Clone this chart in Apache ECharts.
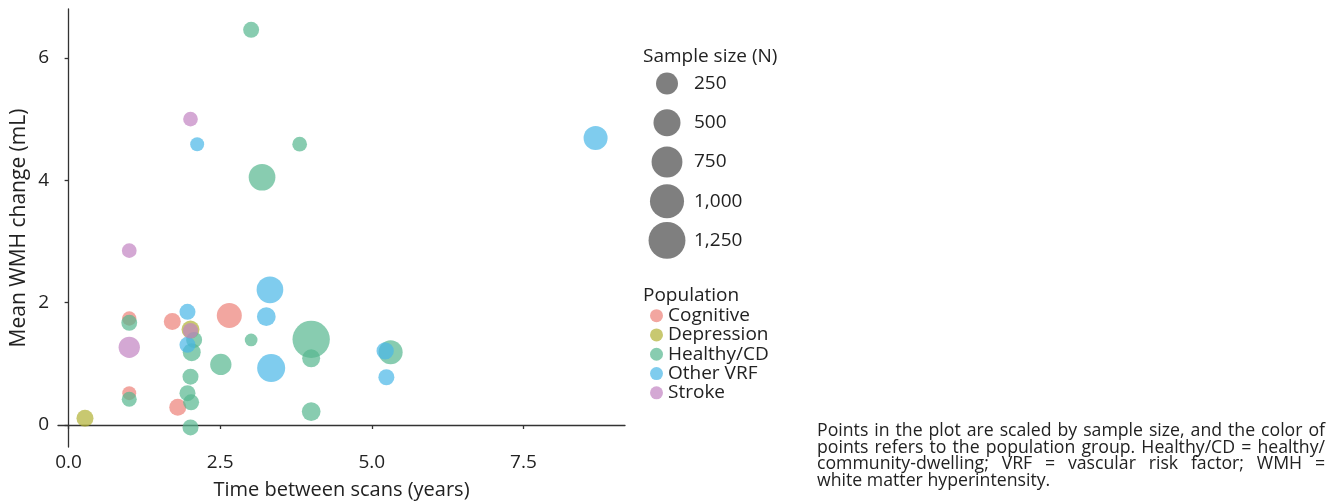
<!DOCTYPE html>
<html>
<head>
<meta charset="utf-8">
<script src="https://cdn.jsdelivr.net/npm/echarts@6/dist/echarts.min.js"></script>
<style>
  body { margin: 0; background: #fff; }
  #chart { width: 1337px; height: 504px; }
  .caption {
    position: absolute; left: 817px; top: 421px; width: 508px;
    font-family: "Open Sans", sans-serif; font-size: 17.7px; line-height: 16.7px; color: #222;
  }
  .caption div { white-space: nowrap; }
  .caption .j { text-align: justify; text-align-last: justify; }
</style>
</head>
<body>
<div id="chart"></div>
<div class="caption">
  <div class="j">Points in the plot are scaled by sample size, and the color of</div>
  <div class="j">points refers to the population group. Healthy/CD = healthy/</div>
  <div class="j">community-dwelling; VRF = vascular risk factor; WMH =</div>
  <div>white matter hyperintensity.</div>
</div>
<script>
// [years between scans, mean WMH change (mL), sample size N]
var cognitive = [[1.0, 1.74, 45], [1.0, 0.52, 40], [1.71, 1.69, 93], [1.80, 0.29, 93], [2.65, 1.79, 390]];
var depression = [[0.27, 0.11, 93], [2.01, 1.56, 117]];
var healthy = [
  [3.01, 6.46, 72], [3.81, 4.59, 50], [3.19, 4.05, 480], [1.0, 1.67, 70], [1.0, 0.42, 55],
  [2.07, 1.39, 72], [2.03, 1.19, 117], [2.01, 0.79, 72], [1.96, 0.52, 72], [2.02, 0.37, 72],
  [2.01, -0.04, 72], [2.51, 0.99, 224], [3.01, 1.39, 28], [4.0, 1.40, 1290], [4.0, 1.09, 117],
  [4.0, 0.22, 137], [5.31, 1.19, 340]
];
var otherVrf = [
  [2.12, 4.59, 40], [8.69, 4.69, 340], [1.96, 1.85, 72], [1.96, 1.31, 72], [3.32, 2.21, 480],
  [3.26, 1.77, 137], [3.34, 0.93, 560], [5.22, 1.21, 100], [5.24, 0.78, 72]
];
var stroke = [[2.01, 5.00, 50], [1.0, 2.85, 50], [1.0, 1.27, 224], [2.01, 1.54, 60]];

var groupNames = ["Cognitive", "Depression", "Healthy/CD", "Other VRF", "Stroke"];
var groupColors = ["#ec8077", "#b0b033", "#55b68e", "#48b6e7", "#c283c2"];
var sizeBreaks = [250, 500, 750, 1000, 1250];
var sizeLabels = ["250", "500", "750", "1,000", "1,250"];
var xTicks = [0, 2.5, 5, 7.5];
var yTicks = [0, 2, 4, 6];

var font = "Open Sans";
function diameter(n) {
  return 10.6 + 0.75 * Math.sqrt(Math.max(n - 20, 0));
}

var groups = [cognitive, depression, healthy, otherVrf, stroke];
var series = groups.map(function (g, i) {
  return {
    name: groupNames[i],
    type: "scatter",
    data: g,
    symbolSize: function (d) { return diameter(d[2]); },
    itemStyle: { color: groupColors[i], opacity: 0.7 },
    emphasis: { disabled: true }
  };
});
series.push({
  type: "scatter",
  xAxisIndex: 1,
  yAxisIndex: 1,
  silent: true,
  data: sizeBreaks.map(function (n, i) { return ["", sizeLabels[i], n]; }),
  symbolSize: function (d) { return diameter(d[2]); },
  itemStyle: { color: "#000", opacity: 0.5 }
});

var axisText = { fontFamily: font, fontSize: 19, color: "#222" };
var legendText = { fontFamily: font, fontSize: 19, fontWeight: "normal", color: "#222" };
var chart = echarts.init(document.getElementById("chart"));
chart.setOption({
  animation: false,
  textStyle: { fontFamily: font },
  title: [
    { text: "Sample size (N)", left: 643, top: 47, padding: 0, textStyle: legendText },
    { text: "Population", left: 643, top: 286, padding: 0, textStyle: legendText }
  ],
  legend: {
    data: groupNames,
    orient: "vertical",
    left: 650,
    top: 306,
    padding: 0,
    icon: "circle",
    itemWidth: 13,
    itemHeight: 13,
    itemGap: 0,
    textStyle: { fontFamily: font, fontSize: 19, color: "#222", lineHeight: 19.3 }
  },
  grid: [
    { left: 58, right: 712, top: 9, bottom: 57, outerBoundsMode: "none" },
    { left: 642, width: 50, top: 64, height: 196, outerBoundsMode: "none" }
  ],
  xAxis: [
    {
      type: "value",
      min: -0.175,
      max: 9.175,
      name: "Time between scans (years)",
      nameLocation: "middle",
      nameGap: 33,
      nameMoveOverlap: false,
      nameTextStyle: { fontFamily: font, fontSize: 20, color: "#222" },
      splitLine: { show: false },
      axisLine: { lineStyle: { color: "#333", width: 1.3 } },
      axisTick: { length: 4, customValues: xTicks, lineStyle: { color: "#333", width: 1.3 } },
      axisLabel: Object.assign({ margin: 6, customValues: xTicks, formatter: function (v) { return v.toFixed(1); } }, axisText)
    },
    { gridIndex: 1, type: "category", data: [""], show: false }
  ],
  yAxis: [
    {
      type: "value",
      min: -0.36,
      max: 6.8,
      name: "Mean WMH change (mL)",
      nameLocation: "middle",
      nameGap: 28,
      nameMoveOverlap: false,
      nameTextStyle: { fontFamily: font, fontSize: 21, color: "#222" },
      splitLine: { show: false },
      axisLine: { show: true, lineStyle: { color: "#333", width: 1.3 } },
      axisTick: { show: true, length: 4, customValues: yTicks, lineStyle: { color: "#333", width: 1.3 } },
      axisLabel: Object.assign({ margin: 9, customValues: yTicks }, axisText)
    },
    {
      gridIndex: 1,
      type: "category",
      data: sizeLabels,
      inverse: true,
      position: "right",
      axisLine: { show: false },
      axisTick: { show: false },
      splitLine: { show: false },
      axisLabel: Object.assign({ margin: 2 }, axisText)
    }
  ],
  series: series
});
</script>
</body>
</html>
